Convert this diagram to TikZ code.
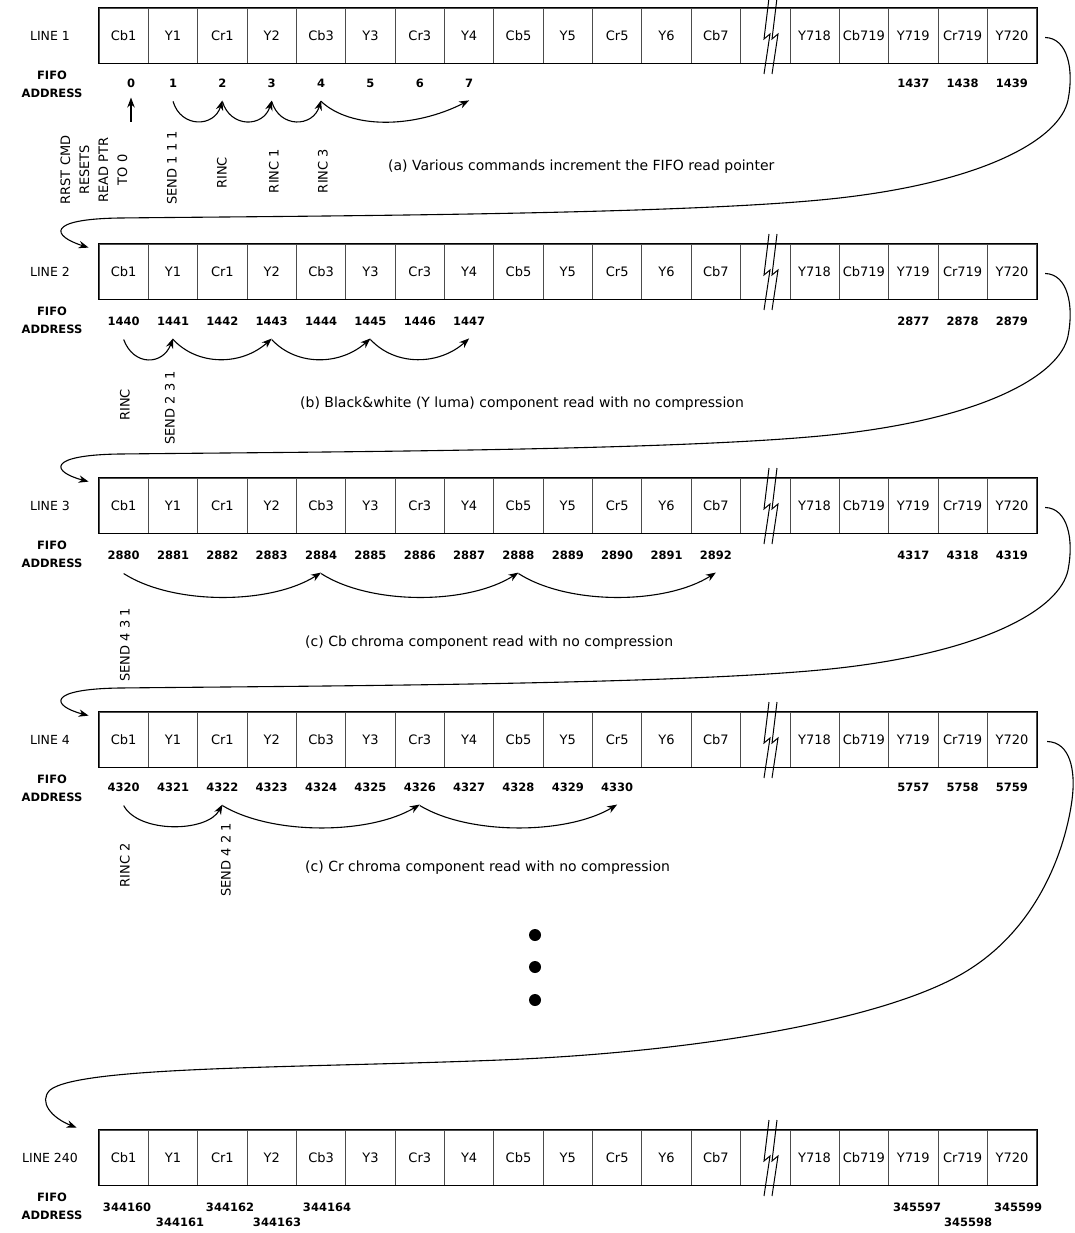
\documentclass[tikz,border=0pt]{standalone}
\usepackage{fontspec}
\setmainfont{DejaVu Sans}
\usetikzlibrary{arrows.meta,calc}
\begin{document}
\begin{tikzpicture}[x=1pt,y=-1pt,
  cell/.style={draw=black!70, line width=0.8pt, minimum width=49.35pt, minimum height=55pt, inner sep=0pt, font=\fontsize{13}{15}\selectfont},
  rowlab/.style={font=\fontsize{12.5}{14}\selectfont},
  fifo/.style={font=\bfseries\fontsize{11.5}{18}\selectfont, align=center, inner sep=0pt},
  num/.style={font=\bfseries\fontsize{11.5}{13}\selectfont, inner sep=1pt},
  cmd/.style={rotate=90, font=\fontsize{13}{19}\selectfont, align=center, inner sep=0pt},
  captext/.style={anchor=west, font=\fontsize{14}{16}\selectfont, inner sep=0pt},
  arr/.style={-{Stealth[length=10pt,width=7.5pt]}, line width=1.1pt},
  brk/.style={line width=1pt},
]
\useasboundingbox[fill=white] (0,0) rectangle (1075,1233);

% ---------- rows of cells ----------
\foreach \r/\t/\lab in {1/8/LINE 1, 2/244/LINE 2, 3/478/LINE 3, 4/712/LINE 4, 5/1130/LINE 240} {
  \foreach \i/\s in {1/Cb1,2/Y1,3/Cr1,4/Y2,5/Cb3,6/Y3,7/Cr3,8/Y4,9/Cb5,10/Y5,11/Cr5,12/Y6,13/Cb7,14/{},15/Y718,16/Cb719,17/Y719,18/Cr719,19/Y720} {
    \node[cell] (r\r-\i) at ({99+(\i-0.5)*49.35},{\t+27.5}) {\s};
  }
  \draw[line width=1.1pt] (r\r-1.north west) rectangle (r\r-19.south east);
  \node[rowlab] (lab\r) at (50,{\t+27.5}) {\lab};
  \node[fifo] (fifo\r) at (52,{\t+76}) {FIFO\\ADDRESS};
  % break symbol
  \draw[brk] (769,{\t-10}) -- (764,{\t+31}) -- (770,{\t+26}) -- (764,{\t+66});
  \draw[brk] (777,{\t-10}) -- (772,{\t+31}) -- (778,{\t+26}) -- (772,{\t+66});
}

% ---------- FIFO addresses ----------
\node[num] (n0) at (131,83) {0};
\foreach \n in {1,...,7} \node[num] (n\n) at ({99+(\n+0.5)*49.35},83) {\n};
\foreach \n in {1437,1438,1439} \node[num] (n\n) at ({99+(\n-1437+16.5)*49.35},83) {\n};

\foreach \n in {1440,...,1447} \node[num] (n\n) at ({99+(\n-1440+0.5)*49.35},321) {\n};
\foreach \n in {2877,2878,2879} \node[num] (n\n) at ({99+(\n-2877+16.5)*49.35},321) {\n};

\foreach \n in {2880,...,2892} \node[num] (n\n) at ({99+(\n-2880+0.5)*49.35},555) {\n};
\foreach \n in {4317,4318,4319} \node[num] (n\n) at ({99+(\n-4317+16.5)*49.35},555) {\n};

\foreach \n in {4320,...,4330} \node[num] (n\n) at ({99+(\n-4320+0.5)*49.35},787) {\n};
\foreach \n in {5757,5758,5759} \node[num] (n\n) at ({99+(\n-5757+16.5)*49.35},787) {\n};

\node[num] (n344160) at (127,1207) {344160};
\node[num] (n344161) at (180,1222) {344161};
\node[num] (n344162) at (230,1207) {344162};
\node[num] (n344163) at (277,1222) {344163};
\node[num] (n344164) at (327,1207) {344164};
\node[num] (n345597) at (917,1207) {345597};
\node[num] (n345598) at (968,1222) {345598};
\node[num] (n345599) at (1018,1207) {345599};

% ---------- row 1 pointer moves ----------
\draw[arr] ($(n0.south)+(0,33)$) -- ($(n0.south)+(0,9)$);
\draw[arr] ($(n1.south)+(0,13)$) .. controls +(8,27) and +(-8,27) .. ($(n2.south)+(0,12)$);
\draw[arr] ($(n2.south)+(0,13)$) .. controls +(8,27) and +(-8,27) .. ($(n3.south)+(0,12)$);
\draw[arr] ($(n3.south)+(0,13)$) .. controls +(8,27) and +(-8,27) .. ($(n4.south)+(0,12)$);
\draw[arr] ($(n4.south)+(0,13)$) .. controls +(30,28) and +(-55,28) .. ($(n7.south)+(0,12)$);

\node[cmd] (c1a) at (94,170) {RRST CMD\\RESETS\\READ PTR\\TO 0};
\node[cmd] (c1b) at (172,168) {SEND 1 1 1};
\node[cmd] (c1c) at (222,173) {RINC};
\node[cmd] (c1d) at (274,171) {RINC 1};
\node[cmd] (c1e) at (323,171) {RINC 3};
\node[captext] (capa) at (388,167) {(a) Various commands increment the FIFO read pointer};

% ---------- row 2 ----------
\draw[arr] ($(n1440.south)+(0,13)$) .. controls +(10,27) and +(-10,27) .. ($(n1441.south)+(0,12)$);
\draw[arr] ($(n1441.south)+(0,13)$) .. controls +(25,27) and +(-30,27) .. ($(n1443.south)+(0,12)$);
\draw[arr] ($(n1443.south)+(0,13)$) .. controls +(25,27) and +(-30,27) .. ($(n1445.south)+(0,12)$);
\draw[arr] ($(n1445.south)+(0,13)$) .. controls +(25,27) and +(-30,27) .. ($(n1447.south)+(0,12)$);
\node[cmd] (c2a) at (125,405) {RINC};
\node[cmd] (c2b) at (170,408) {SEND 2 3 1};
\node[captext] (capb) at (300,404) {(b) Black\&white (Y luma) component read with no compression};

% ---------- row 3 ----------
\draw[arr] ($(n2880.south)+(0,13)$) .. controls +(50,32) and +(-50,32) .. ($(n2884.south)+(0,12)$);
\draw[arr] ($(n2884.south)+(0,13)$) .. controls +(50,32) and +(-50,32) .. ($(n2888.south)+(0,12)$);
\draw[arr] ($(n2888.south)+(0,13)$) .. controls +(50,32) and +(-50,32) .. ($(n2892.south)+(0,12)$);
\node[cmd] (c3a) at (125,645) {SEND 4 3 1};
\node[captext] (capc) at (305,643) {(c) Cb chroma component read with no compression};

% ---------- row 4 ----------
\draw[arr] ($(n4320.south)+(0,13)$) .. controls +(15,28) and +(-15,28) .. ($(n4322.south)+(0,12)$);
\draw[arr] ($(n4322.south)+(0,13)$) .. controls +(50,30) and +(-50,30) .. ($(n4326.south)+(0,12)$);
\draw[arr] ($(n4326.south)+(0,13)$) .. controls +(50,30) and +(-50,30) .. ($(n4330.south)+(0,12)$);
\node[cmd] (c4a) at (125,865) {RINC 2};
\node[cmd] (c4b) at (226,860) {SEND 4 2 1};
\node[captext] (capd) at (305,868) {(c) Cr chroma component read with no compression};

% ---------- dots ----------
\fill (535,935) circle[radius=6pt];
\fill (535,967) circle[radius=6pt];
\fill (535,1000) circle[radius=6pt];

% ---------- line-to-line connectors ----------
\foreach \r/\t/\nx in {1/8/2, 2/244/3, 3/478/4} {
  \draw[arr] ($(r\r-19.east)+(8,2)$)
    .. controls (1068,{\t+30}) and (1074,{\t+62}) .. (1068,{\t+92})
    .. controls (1060,{\t+132}) and (980,{\t+177}) .. (820,{\t+192})
    .. controls (660,{\t+207}) and (300,{\t+208}) .. (120,{\t+210})
    .. controls (45,{\t+211}) and (52,{\t+228}) .. ($(r\nx-1.north west)+(-10,4)$);
}
\draw[arr] ($(r4-19.east)+(10,2)$)
  .. controls (1070,742) and (1076,770) .. (1072,800)
  .. controls (1066,845) and (1040,930) .. (960,975)
  .. controls (880,1020) and (700,1052) .. (500,1060)
  .. controls (300,1068) and (80,1066) .. (50,1090)
  .. controls (38,1102) and (52,1118) .. ($(r5-1.north west)+(-22,-2)$);

\end{tikzpicture}
\end{document}
